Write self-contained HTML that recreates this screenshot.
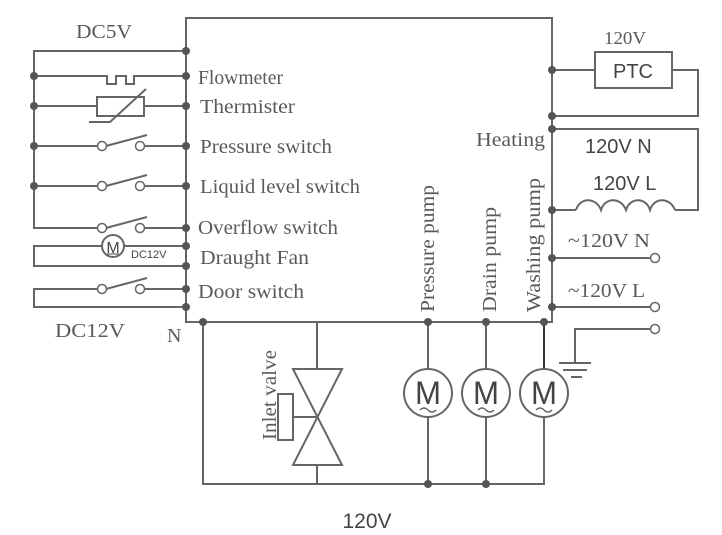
<!DOCTYPE html>
<html><head><meta charset="utf-8"><style>
html,body{margin:0;padding:0;background:#fff;}
svg{display:block;}
.s{font-family:"Liberation Serif",serif;fill:#5a5a5a;font-size:20px;}
.a{font-family:"Liberation Sans",sans-serif;fill:#444;}
</style></head><body>
<svg width="722" height="535" viewBox="0 0 722 535" xmlns="http://www.w3.org/2000/svg">
<g fill="none" stroke="#666" stroke-width="2">
<rect x="186" y="18" width="366" height="304"/>
<polyline points="186,51 34,51 34,228 97,228"/>
<line x1="145" y1="228" x2="186" y2="228"/>
<line x1="106" y1="228" x2="147" y2="217"/>
<polyline points="34,76 107,76 107,84 116,84 116,76 126,76 126,84 134,84 134,76 186,76"/>
<line x1="34" y1="106" x2="97" y2="106"/>
<rect x="97" y="97" width="47" height="19"/>
<line x1="144" y1="106" x2="186" y2="106"/>
<polyline points="89,122 110,122 146,89"/>
<line x1="34" y1="146" x2="97" y2="146"/><line x1="106" y1="146" x2="147" y2="135"/><line x1="145" y1="146" x2="186" y2="146"/>
<line x1="34" y1="186" x2="97" y2="186"/><line x1="106" y1="186" x2="147" y2="175"/><line x1="145" y1="186" x2="186" y2="186"/>
<polyline points="102,246 34,246 34,266 186,266"/>
<line x1="124" y1="246" x2="186" y2="246"/>
<circle cx="113" cy="246" r="11"/>
<polyline points="97,289 34,289 34,307 186,307"/>
<line x1="106" y1="289" x2="147" y2="278"/><line x1="145" y1="289" x2="186" y2="289"/>
<line x1="552" y1="70" x2="595" y2="70"/>
<rect x="595" y="52" width="77" height="36"/>
<polyline points="672,70 698,70 698,116 552,116"/>
<polyline points="552,129 698,129 698,210 675,210"/>
<line x1="552" y1="210" x2="576" y2="210"/>
<path d="M576,210 C580,197 596,197 601,210 C605,197 621,197 626,210 C630,197 646,197 650,210 C654,197 670,197 675,210"/>
<line x1="552" y1="258" x2="650" y2="258"/>
<line x1="552" y1="307" x2="650" y2="307"/>
<polyline points="650,329 575,329 575,363"/>
<line x1="559" y1="363" x2="591" y2="363"/>
<line x1="563" y1="370" x2="587" y2="370"/>
<line x1="571" y1="377" x2="582" y2="377"/>
<polyline points="203,322 203,484 544,484 544,417"/>
<line x1="317" y1="322" x2="317" y2="369"/>
<line x1="317" y1="465" x2="317" y2="484"/>
<polygon points="293,369 342,369 293,465 342,465"/>
<rect x="278" y="394" width="15" height="46"/>
<line x1="293" y1="417" x2="317" y2="417"/>
<line x1="428" y1="322" x2="428" y2="369"/><line x1="428" y1="417" x2="428" y2="484"/>
<line x1="486" y1="322" x2="486" y2="369"/><line x1="486" y1="417" x2="486" y2="484"/>
<line x1="544" y1="322" x2="544" y2="369" stroke="#333"/>
<circle cx="428" cy="393" r="24"/><circle cx="486" cy="393" r="24"/><circle cx="544" cy="393" r="24"/>
<path d="M420,410 q4,-4 8,0 t8,0 M478,410 q4,-4 8,0 t8,0 M536,410 q4,-4 8,0 t8,0" stroke-width="1.5"/>
</g>
<g fill="#fff" stroke="#666" stroke-width="1.5">
<circle cx="102" cy="146" r="4.5"/><circle cx="140" cy="146" r="4.5"/>
<circle cx="102" cy="186" r="4.5"/><circle cx="140" cy="186" r="4.5"/>
<circle cx="102" cy="228" r="4.5"/><circle cx="140" cy="228" r="4.5"/>
<circle cx="102" cy="289" r="4.5"/><circle cx="140" cy="289" r="4.5"/>
<circle cx="655" cy="258" r="4.5"/><circle cx="655" cy="307" r="4.5"/><circle cx="655" cy="329" r="4.5"/>
</g>
<g fill="#555">
<circle cx="186" cy="51" r="4"/><circle cx="186" cy="76" r="4"/><circle cx="186" cy="106" r="4"/><circle cx="186" cy="146" r="4"/><circle cx="186" cy="186" r="4"/><circle cx="186" cy="228" r="4"/><circle cx="186" cy="246" r="4"/><circle cx="186" cy="266" r="4"/><circle cx="186" cy="289" r="4"/><circle cx="186" cy="307" r="4"/>
<circle cx="34" cy="76" r="4"/><circle cx="34" cy="106" r="4"/><circle cx="34" cy="146" r="4"/><circle cx="34" cy="186" r="4"/>
<circle cx="552" cy="70" r="4"/><circle cx="552" cy="116" r="4"/><circle cx="552" cy="129" r="4"/><circle cx="552" cy="210" r="4"/><circle cx="552" cy="258" r="4"/><circle cx="552" cy="307" r="4"/>
<circle cx="203" cy="322" r="4"/><circle cx="428" cy="322" r="4"/><circle cx="486" cy="322" r="4"/><circle cx="544" cy="322" r="4"/>
<circle cx="428" cy="484" r="4"/><circle cx="486" cy="484" r="4"/>
</g>
<g class="s">
<text x="76" y="38" textLength="56" lengthAdjust="spacingAndGlyphs">DC5V</text>
<text x="198" y="84" textLength="85" lengthAdjust="spacingAndGlyphs">Flowmeter</text>
<text x="200" y="113" textLength="95" lengthAdjust="spacingAndGlyphs">Thermister</text>
<text x="200" y="153" textLength="132" lengthAdjust="spacingAndGlyphs">Pressure switch</text>
<text x="200" y="193" textLength="160" lengthAdjust="spacingAndGlyphs">Liquid level switch</text>
<text x="198" y="234" textLength="140" lengthAdjust="spacingAndGlyphs">Overflow switch</text>
<text x="200" y="264" textLength="109" lengthAdjust="spacingAndGlyphs">Draught Fan</text>
<text x="198" y="298" textLength="106" lengthAdjust="spacingAndGlyphs">Door switch</text>
<text x="55" y="337" textLength="70" lengthAdjust="spacingAndGlyphs">DC12V</text>
<text x="167" y="342">N</text>
<text x="604" y="44" font-size="18" textLength="42" lengthAdjust="spacingAndGlyphs">120V</text>
<text x="476" y="146" textLength="69" lengthAdjust="spacingAndGlyphs">Heating</text>
<text x="568" y="247" textLength="82" lengthAdjust="spacingAndGlyphs">~120V N</text>
<text x="568" y="297" textLength="77" lengthAdjust="spacingAndGlyphs">~120V L</text>
<text transform="translate(434,312) rotate(-90)" textLength="127" lengthAdjust="spacingAndGlyphs">Pressure pump</text>
<text transform="translate(496,312) rotate(-90)" textLength="105" lengthAdjust="spacingAndGlyphs">Drain pump</text>
<text transform="translate(540,312) rotate(-90)" textLength="134" lengthAdjust="spacingAndGlyphs">Washing pump</text>
<text transform="translate(276,440) rotate(-90)" textLength="90" lengthAdjust="spacingAndGlyphs">Inlet valve</text>
</g>
<g class="a">
<text x="633" y="78" font-size="20" text-anchor="middle">PTC</text>
<text x="585" y="153" font-size="20">120V N</text>
<text x="593" y="190" font-size="20">120V L</text>
<text x="367" y="528" font-size="21" text-anchor="middle">120V</text>
<text x="131" y="258" font-size="11">DC12V</text>
<text x="113" y="253" font-size="16" text-anchor="middle">M</text>
<text x="415" y="404" font-size="32" textLength="26" lengthAdjust="spacingAndGlyphs">M</text>
<text x="473" y="404" font-size="32" textLength="26" lengthAdjust="spacingAndGlyphs">M</text>
<text x="531" y="404" font-size="32" textLength="26" lengthAdjust="spacingAndGlyphs">M</text>
</g>
<line x1="107" y1="254" x2="119" y2="254" stroke="#444" stroke-width="1"/>
</svg>
</body></html>
